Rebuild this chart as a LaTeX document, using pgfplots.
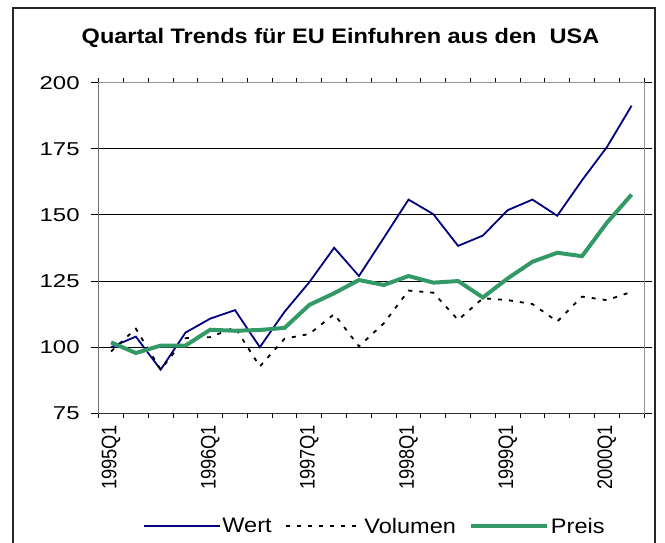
\documentclass[border=0pt]{standalone}
\usepackage{fontspec}
\setmainfont{Liberation Sans}[FakeStretch=1.12]
\newfontfamily\plainfont{Liberation Sans}
\usepackage{pgfplots}
\pgfplotsset{compat=1.18}
\definecolor{wert}{RGB}{0,0,128}
\definecolor{preis}{RGB}{51,153,102}
\begin{document}
\begin{tikzpicture}[x=1pt,y=1pt]
\useasboundingbox (0,0) rectangle (665,543);
\draw[black!85, line width=1.4pt] (13,-10) -- (13,535) -- (655,535) -- (655,-10);
\node[anchor=base, font=\fontsize{21}{24}\selectfont\bfseries] at (340.5,499) {Quartal Trends für EU Einfuhren aus den\ \ USA};
\begin{axis}[
    at={(98.7pt,129.7pt)}, anchor=south west,
    scale only axis,
    width=545.3pt, height=330.6pt,
    xmin=-0.5, xmax=21.5,
    ymin=75, ymax=200,
    ytick={75,100,...,200},
    xtick={0,4,...,20},
    xticklabels={1995Q1,1996Q1,1997Q1,1998Q1,1999Q1,2000Q1},
    minor xtick={-0.5,0.5,...,21.5},
    tick align=outside,
    major tick length=8pt,
    minor tick length=5pt,
    major x tick style={draw=none},
    minor x tick style={black, line width=1pt},
    major y tick style={black, line width=1pt},
    ymajorgrids=true,
    major grid style={black, line width=0.9pt},
    axis line style={gray!85, line width=1pt},
    /pgf/number format/assume math mode=true,
    yticklabel style={font=\fontsize{18.6}{20}\selectfont, xshift=-7pt, xscale=1.15},
    xticklabel style={font=\plainfont\fontsize{18.3}{20}\selectfont, rotate=90, yscale=1.15, anchor=east},
    legend style={at={(0.506,-0.342)}, anchor=center, draw=none, fill=none,
        font=\fontsize{21}{24}\selectfont,
        /tikz/every even column/.append style={column sep=11pt},
        nodes={inner sep=2pt}},
    legend columns=-1,
    legend image code/.code={\draw[#1] (0pt,0pt) -- (76pt,0pt);},
]
\addplot[wert, line width=1.8pt] coordinates {
(0,100.0) (1,104.0) (2,91.5) (3,105.5) (4,110.8) (5,114.0) (6,100.0) (7,113.4)
(8,124.6) (9,137.6) (10,126.9) (11,141.3) (12,155.8) (13,150.3) (14,138.3) (15,142.2)
(16,151.8) (17,155.8) (18,149.7) (19,163.1) (20,175.6) (21,191.3)};
\addlegendentry{Wert}
\addplot[black, line width=1.8pt, dash pattern=on 4pt off 7pt] coordinates {
(0,98.4) (1,107.0) (2,91.5) (3,103.4) (4,103.8) (5,107.5) (6,92.7) (7,103.2)
(8,105.0) (9,112.5) (10,100.3) (11,109.0) (12,121.4) (13,120.6) (14,110.3) (15,118.5)
(16,117.8) (17,116.3) (18,109.7) (19,119.1) (20,117.8) (21,120.9)};
\addlegendentry{Volumen}
\addplot[preis, line width=4pt] coordinates {
(0,101.8) (1,97.8) (2,100.6) (3,100.6) (4,106.6) (5,106.2) (6,106.5) (7,107.3)
(8,116.0) (9,120.4) (10,125.4) (11,123.5) (12,126.9) (13,124.4) (14,125.0) (15,118.8)
(16,126.0) (17,132.3) (18,135.7) (19,134.4) (20,147.0) (21,157.7)};
\addlegendentry{Preis}
\draw[black!80, line width=1.2pt] (rel axis cs:0,1) -- (rel axis cs:0,0) -- (rel axis cs:1,0);
\end{axis}
\end{tikzpicture}
\end{document}
